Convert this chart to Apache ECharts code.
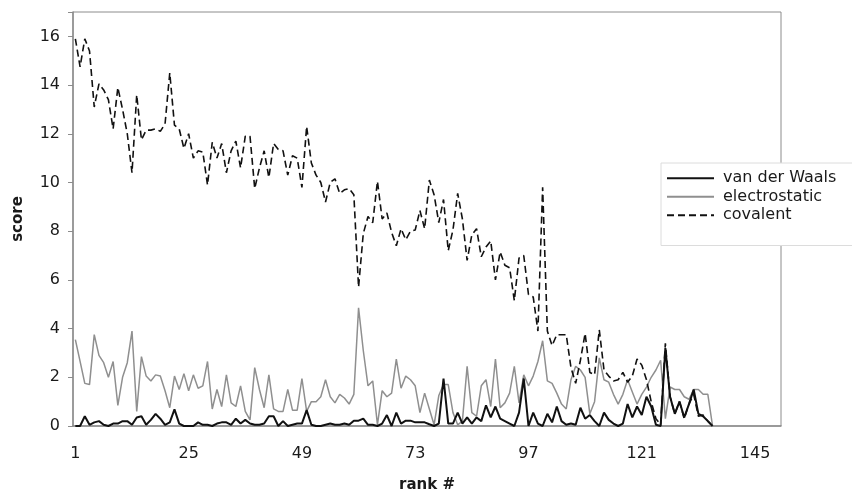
<!DOCTYPE html>
<html>
<head>
<meta charset="utf-8">
<script src="https://cdn.jsdelivr.net/npm/echarts@6/dist/echarts.min.js"></script>
<style>html,body{margin:0;padding:0;background:#fff}#c{width:852px;height:496px}</style>
</head>
<body>
<div id="c"></div>
<script>
var ranks = [];
for (var i = 1; i <= 150; i++) ranks.push(String(i));

var seriesNames = ['van der Waals', 'electrostatic', 'covalent'];

var vanDerWaals = [
0,0,0.4,0.05,0.15,0.2,0.05,0,0.1,0.1,
0.2,0.2,0.05,0.35,0.4,0.05,0.25,0.5,0.3,0.05,
0.15,0.68,0.1,0,0,0,0.15,0.05,0.05,0,
0.1,0.15,0.15,0.05,0.3,0.1,0.25,0.1,0.05,0.05,
0.1,0.4,0.4,0,0.2,0,0.05,0.1,0.1,0.65,
0.05,0,0,0.05,0.1,0.05,0.05,0.1,0.05,0.22,
0.22,0.3,0.05,0.05,0,0.1,0.45,0,0.55,0.1,
0.22,0.22,0.15,0.15,0.15,0.07,0,0.1,1.95,0.1,
0.1,0.55,0.1,0.35,0.1,0.35,0.2,0.85,0.35,0.8,
0.3,0.2,0.1,0,0.55,1.95,0,0.55,0.1,0,
0.5,0.15,0.8,0.2,0.05,0.1,0.05,0.75,0.3,0.45,
0.2,0,0.55,0.25,0.1,0,0.1,0.9,0.35,0.8,
0.45,1.2,0.8,0.05,0,3.2,1.2,0.5,1.0,0.35,
0.9,1.5,0.5,0.4,0.2,0
];

var electrostatic = [
3.55,2.65,1.75,1.7,3.75,2.9,2.6,2.0,2.65,0.85,
2.0,2.6,3.9,0.6,2.85,2.05,1.85,2.1,2.05,1.45,
0.75,2.05,1.5,2.15,1.45,2.1,1.55,1.65,2.65,0.7,
1.5,0.8,2.1,0.95,0.8,1.65,0.6,0.25,2.4,1.5,
0.75,2.1,0.7,0.6,0.6,1.5,0.65,0.65,1.95,0.6,
1.0,1.0,1.2,1.9,1.2,0.95,1.3,1.15,0.9,1.3,
4.85,3.1,1.65,1.85,0.05,1.45,1.2,1.35,2.75,1.55,
2.05,1.9,1.65,0.55,1.35,0.7,0.05,1.25,1.7,1.7,
0.55,0.05,0.2,2.45,0.55,0.4,1.65,1.9,0.8,2.75,
0.75,0.95,1.35,2.45,0.95,2.1,1.65,2.05,2.65,3.5,
1.85,1.75,1.35,0.9,0.7,1.9,2.45,2.3,2.0,0.5,
1.0,2.8,1.9,1.8,1.3,0.9,1.3,1.9,1.4,0.9,
1.3,1.6,2.0,2.3,2.7,0.3,1.6,1.5,1.5,1.2,
1.1,1.5,1.5,1.3,1.3,0
];

var covalent = [
15.9,14.75,15.9,15.4,13.1,14.05,13.8,13.4,12.2,13.9,
13.0,12.0,10.4,13.6,11.75,12.15,12.15,12.2,12.1,12.4,
14.5,12.35,12.2,11.4,12.0,11.0,11.3,11.25,9.9,11.65,
11.0,11.6,10.4,11.3,11.7,10.6,11.9,11.9,9.75,10.6,
11.3,10.2,11.6,11.35,11.3,10.3,11.1,11.0,9.8,12.3,
10.8,10.3,10.0,9.2,10.0,10.15,9.55,9.7,9.75,9.5,
5.7,7.9,8.6,8.35,10.05,8.5,8.75,7.95,7.4,8.1,
7.65,8.0,8.05,8.85,8.1,10.1,9.5,8.35,9.3,7.2,
8.05,9.55,8.5,6.8,7.85,8.1,6.95,7.35,7.6,6.0,
7.15,6.6,6.5,5.15,6.9,7.0,5.4,5.3,3.9,9.8,
3.9,3.3,3.75,3.75,3.75,2.4,1.75,2.7,3.8,2.2,
2.1,3.95,2.3,2.05,1.85,1.9,2.2,1.8,2.05,2.75,
2.5,1.9,1.0,0.3,0.05,3.4,1.2,0.5,1.0,0.3,
0.9,1.3,0.4,0.45,0.2,0
];

var yTicks = [0, 2, 4, 6, 8, 10, 12, 14, 16];

var FONT = '"DejaVu Sans", Verdana, sans-serif';
var chart = echarts.init(document.getElementById('c'), null, {renderer: 'canvas'});
chart.setOption({
  animation: false,
  backgroundColor: '#fff',
  grid: {left: 73, right: 71, top: 12, bottom: 70, outerBoundsMode: 'none', containLabel: false,
         show: true, borderColor: '#8c8c8c', borderWidth: 1, backgroundColor: 'transparent'},
  legend: {
    orient: 'vertical',
    left: 661, top: 163,
    padding: [6, 40, 21, 5],
    itemGap: 0,
    itemWidth: 47, itemHeight: 10,
    backgroundColor: '#fff',
    borderColor: '#dcdcdc', borderWidth: 1,
    data: seriesNames,
    itemStyle: {opacity: 0},
    textStyle: {fontFamily: FONT, fontSize: 16, color: '#1a1a1a', lineHeight: 18.5, padding: [0, 0, 0, 4]}
  },
  xAxis: {
    type: 'category',
    data: ranks,
    boundaryGap: true,
    name: 'rank #',
    nameLocation: 'middle',
    nameGap: 52,
    nameTextStyle: {fontFamily: FONT, fontSize: 15, fontWeight: 'bold', color: '#1a1a1a'},
    axisLine: {lineStyle: {color: '#8c8c8c', width: 1.5}},
    axisTick: {show: false},
    axisLabel: {interval: 23, margin: 20, fontFamily: FONT, fontSize: 16, color: '#1a1a1a'},
    splitLine: {show: false}
  },
  yAxis: {
    type: 'value',
    min: 0, max: 17, interval: 2,
    name: 'score',
    nameLocation: 'middle',
    nameGap: 47,
    nameRotate: 90,
    nameTextStyle: {fontFamily: FONT, fontSize: 15, fontWeight: 'bold', color: '#1a1a1a'},
    axisLine: {show: true, lineStyle: {color: '#8c8c8c', width: 1.5}},
    axisTick: {show: true, length: 5, lineStyle: {color: '#8c8c8c'}},
    axisLabel: {margin: 13, fontFamily: FONT, fontSize: 16, color: '#1a1a1a',
      formatter: function (v) { return yTicks.indexOf(v) >= 0 ? String(v) : ''; }},
    splitLine: {show: false}
  },
  series: [
    {name: seriesNames[0], type: 'line', data: vanDerWaals, symbol: 'none',
     lineStyle: {color: '#111', width: 2}, itemStyle: {color: '#111'}, z: 3},
    {name: seriesNames[1], type: 'line', data: electrostatic, symbol: 'none',
     lineStyle: {color: '#8f8f8f', width: 1.5}, itemStyle: {color: '#8f8f8f'}, z: 2},
    {name: seriesNames[2], type: 'line', data: covalent, symbol: 'none',
     lineStyle: {color: '#111', width: 1.6, type: [7, 4]}, itemStyle: {color: '#111'}, z: 4}
  ]
});
</script>
</body>
</html>
